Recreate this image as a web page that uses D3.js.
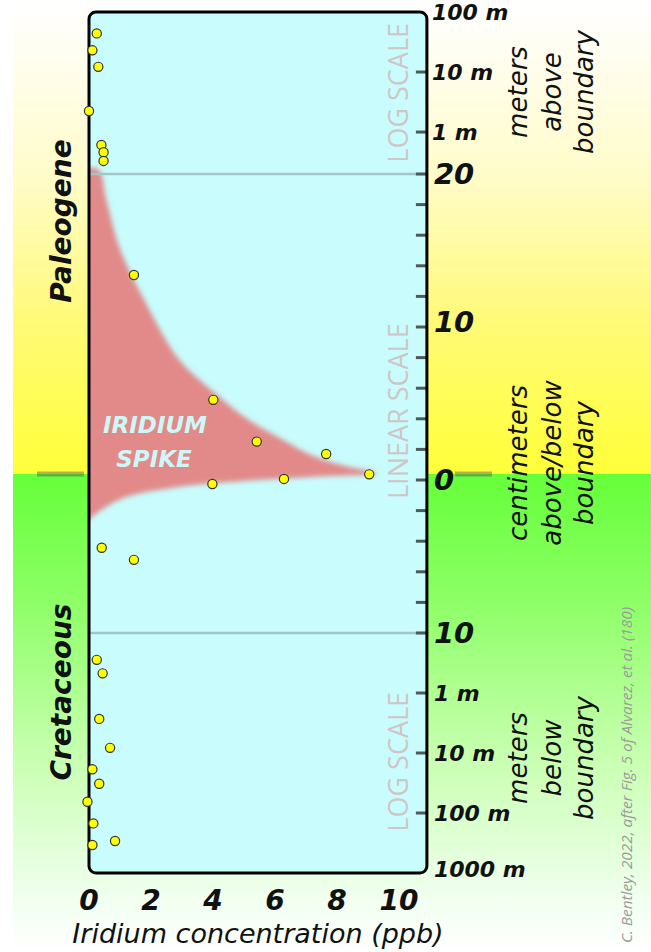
<!DOCTYPE html>
<html><head><meta charset="utf-8">
<script src="https://cdn.jsdelivr.net/npm/d3@7"></script>
<style>body{margin:0;background:#fff}svg{display:block}</style>
</head><body><svg id="c" width="651" height="952"></svg>
<script>
// ---------- data ----------
// points in the upper (log, meters above boundary) section
const topMeters = [44, 23, 12.2, 2.24, 0.61, 0.46, 0.33];
const topPpb    = [0.25, 0.11, 0.30, 0.0, 0.40, 0.47, 0.47];
// points in the linear section (centimeters above(+)/below(-) boundary)
const linCm  = [13.4, 5.24, 2.51, 1.70, 0.37, 0.07, -0.26, -4.43, -5.22];
const linPpb = [1.45, 4.01, 5.41, 7.65, 9.04, 6.29, 3.98, 0.41, 1.45];
// points in the lower (log, meters below boundary) section
const botMeters = [0.28, 0.47, 2.7, 8.2, 18.7, 32.5, 65, 149, 341, 293];
const botPpb    = [0.25, 0.44, 0.33, 0.68, 0.11, 0.33, -0.05, 0.14, 0.11, 0.84];
// iridium spike envelope (cm, ppb)
const spikeCm  = [20.3, 20.3, 18.4, 15.1, 11.9, 7.9, 5.8, 4.0, 2.7, 1.6, 0.9, 0.45, 0.2, -0.05, -0.45, -1.05, -1.7, -2.35, -3.0];
const spikePpb = [-0.3, 0.3, 0.55, 1.0, 1.75, 2.9, 4.0, 5.1, 6.2, 7.2, 8.3, 9.3, 7.2, 5.1, 2.9, 1.3, 0.6, 0.13, -0.3];
// tick labels
const xTickValues = [0, 2, 4, 6, 8, 10];
const topLogTickValues = [100, 10, 1];
const topLogTickLabels = ["100 m", "10 m", "1 m"];
const linTickValues = [-10, -8, -6, -4, -2, 0, 2, 4, 6, 8, 10, 12, 14, 16, 18, 20];
const linLabelValues = [20, 10, 0, -10];
const linLabelTexts  = ["20", "10", "0", "10"];
const botLogTickValues = [1, 10, 100, 1000];
const botLogTickLabels = ["1 m", "10 m", "100 m", "1000 m"];

// ---------- scales ----------
const x = d3.scaleLinear().domain([0, 10]).range([89, 399]);
const xMax = 10.9;
const yTop = d3.scaleLog().domain([0.2, 100]).range([174, 12]);
const yLin = d3.scaleLinear().domain([-10, 20]).range([633, 174]);
const yBot = d3.scaleLog().domain([0.1, 1000]).range([633, 873]);

const svg = d3.select("#c");
const defs = svg.append("defs");
const F = "'DejaVu Sans', Verdana, sans-serif";

// background gradient
const yb = yLin(0) - 6; // colour boundary
const g = defs.append("linearGradient").attr("id","bg").attr("gradientUnits","userSpaceOnUse")
  .attr("x1",0).attr("x2",0).attr("y1",0).attr("y2",952);
[[0,"#ffffff"],[50,"#fffef2"],[180,"#fffcc8"],[320,"#fffa78"],[yb,"#ffff38"],
 [yb,"#66ff3a"],[600,"#8dff66"],[760,"#c9ffb2"],[900,"#f1fff0"],[952,"#ffffff"]]
 .forEach(([p,c])=>g.append("stop").attr("offset",p/952).attr("stop-color",c));
svg.append("rect").attr("x",13).attr("y",0).attr("width",638).attr("height",952).attr("fill","url(#bg)");

// boundary grey dashes outside the plot
svg.append("line").attr("x1",37).attr("x2",84).attr("y1",yb).attr("y2",yb)
  .attr("stroke","rgba(70,70,70,0.4)").attr("stroke-width",5);
svg.append("line").attr("x1",455).attr("x2",492).attr("y1",yb).attr("y2",yb)
  .attr("stroke","rgba(70,70,70,0.4)").attr("stroke-width",5);

// plot box
const bx = x(0), bw = x(xMax) - x(0), by = yTop(100), bh = yBot(1000) - yTop(100);
defs.append("clipPath").attr("id","clip").append("rect")
  .attr("x",bx).attr("y",by).attr("width",bw).attr("height",bh).attr("rx",7);
svg.append("rect").attr("x",bx).attr("y",by).attr("width",bw).attr("height",bh).attr("rx",7)
  .attr("fill","#c9fcfd");

const filt = defs.append("filter").attr("id","blur").attr("x","-10%").attr("y","-10%").attr("width","120%").attr("height","120%");
filt.append("feGaussianBlur").attr("stdDeviation",2.6);

const inner = svg.append("g").attr("clip-path","url(#clip)");
const spike = spikeCm.map((c,i)=>[spikePpb[i], c]);
inner.append("path")
  .attr("d", d3.line().x(d=>x(d[0])).y(d=>yLin(d[1])).curve(d3.curveCatmullRom.alpha(0.5))(spike) + "Z")
  .attr("fill","#e28a8a").attr("filter","url(#blur)");

// section dividers
[20, -10].forEach(v=>inner.append("line").attr("x1",bx).attr("x2",bx+bw)
  .attr("y1",yLin(v)).attr("y2",yLin(v)).attr("stroke","#a3c6ca").attr("stroke-width",2.5));

// scale watermark labels
const wm = (txt, cy) => inner.append("text").attr("transform",`translate(408,${cy}) rotate(-90)`)
  .attr("text-anchor","middle").attr("font-family","'Open Sans', sans-serif").attr("font-size",27)
  .attr("fill","#cfc6c6").text(txt);
wm("LOG SCALE", yTop(4.5));
wm("LINEAR SCALE", yLin(4.5));
wm("LOG SCALE", yBot(14));

// iridium spike label
inner.append("text").attr("x",155).attr("y",433).attr("text-anchor","middle")
  .attr("font-family",F).attr("font-style","italic").attr("font-weight","bold").attr("font-size",23)
  .attr("fill","#cdf8f8").text("IRIDIUM");
inner.append("text").attr("x",154).attr("y",467).attr("text-anchor","middle")
  .attr("font-family",F).attr("font-style","italic").attr("font-weight","bold").attr("font-size",23)
  .attr("fill","#cdf8f8").text("SPIKE");

// right ticks
const tickG = svg.append("g").attr("stroke","#4d5a5a").attr("stroke-width",3);
const tx1 = bx + bw - 11, tx2 = bx + bw;
topLogTickValues.slice(1).forEach(v=>tickG.append("line").attr("x1",tx1).attr("x2",tx2).attr("y1",yTop(v)).attr("y2",yTop(v)));
linTickValues.forEach(v=>tickG.append("line").attr("x1",tx1).attr("x2",tx2).attr("y1",yLin(v)).attr("y2",yLin(v)));
botLogTickValues.slice(0,3).forEach(v=>tickG.append("line").attr("x1",tx1).attr("x2",tx2).attr("y1",yBot(v)).attr("y2",yBot(v)));

// border
svg.append("rect").attr("x",bx).attr("y",by).attr("width",bw).attr("height",bh).attr("rx",7)
  .attr("fill","none").attr("stroke","#000").attr("stroke-width",3);

// points
const pts = [];
topMeters.forEach((m,i)=>pts.push([x(topPpb[i]), yTop(m)]));
linCm.forEach((c,i)=>pts.push([x(linPpb[i]), yLin(c)]));
botMeters.forEach((m,i)=>pts.push([x(botPpb[i]), yBot(m)]));
svg.append("g").selectAll("circle").data(pts).join("circle")
  .attr("cx",d=>d[0]).attr("cy",d=>d[1]).attr("r",4.6)
  .attr("fill","#ffff00").attr("stroke","#333").attr("stroke-width",1.2);

// right axis labels
const lab = svg.append("g").attr("font-family",F).attr("font-style","italic").attr("font-weight","bold").attr("fill","#111");
const lx = bx + bw + 5;
topLogTickValues.forEach((v,i)=>lab.append("text").attr("x",lx).attr("y",yTop(v)+8).attr("font-size",22).text(topLogTickLabels[i]));
linLabelValues.forEach((v,i)=>lab.append("text").attr("x",lx+2).attr("y",yLin(v)+(v===10?5:10)).attr("font-size",29).text(linLabelTexts[i]));
botLogTickValues.forEach((v,i)=>lab.append("text").attr("x",lx+2).attr("y",yBot(v)+(v===1000?4:8)).attr("font-size",22).text(botLogTickLabels[i]));

// x-axis
const xa = svg.append("g").attr("font-family",F).attr("font-style","italic").attr("font-weight","bold").attr("fill","#111");
xTickValues.forEach(v=>xa.append("text").attr("x",x(v)).attr("y",910).attr("text-anchor","middle").attr("font-size",28).text(v));
svg.append("text").attr("x",258).attr("y",943).attr("text-anchor","middle").attr("font-family",F)
  .attr("font-style","italic").attr("font-size",27).attr("fill","#111").text("Iridium concentration (ppb)");

// rotated descriptive blocks
function block(lines, cy) {
  const cols = [527, 561, 593];
  lines.forEach((t,i)=>svg.append("text").attr("transform",`translate(${cols[i]},${cy}) rotate(-90)`)
    .attr("text-anchor","middle").attr("font-family",F).attr("font-style","italic").attr("font-size",26)
    .attr("fill","#111").text(t));
}
block(["meters","above","boundary"], 92);
block(["centimeters","above/below","boundary"], 463);
block(["meters","below","boundary"], 758);

// period labels
const per = (t, cy) => svg.append("text").attr("transform",`translate(71,${cy}) rotate(-90)`)
  .attr("text-anchor","middle").attr("font-family",F).attr("font-style","italic").attr("font-weight","bold")
  .attr("font-size",28).attr("fill","#111").text(t);
per("Paleogene", 221);
per("Cretaceous", 692);

// credit
const cr = svg.append("text").attr("transform","translate(632,775) rotate(-90)").attr("text-anchor","middle")
  .attr("font-family","'Open Sans', sans-serif").attr("font-style","italic").attr("font-size",14.5).attr("fill","#9a9a9a")
  .attr("textLength",336).attr("lengthAdjust","spacingAndGlyphs");
cr.text("C. Bentley, 2022, after Fig. 5 of Alvarez, et al. (180)");
</script></body></html>
